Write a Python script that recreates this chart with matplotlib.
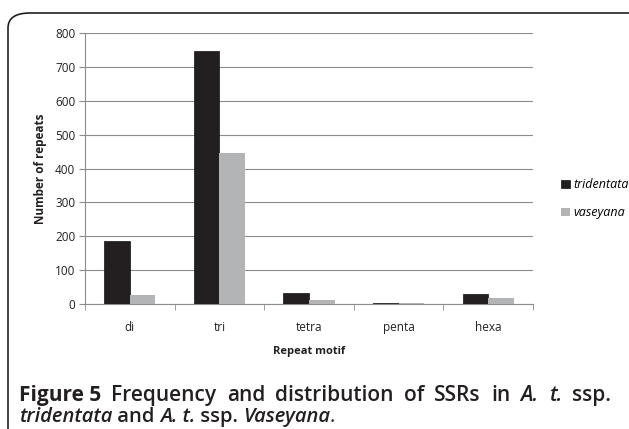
import matplotlib
matplotlib.use("Agg")
import matplotlib.pyplot as plt
import numpy as np
from matplotlib.patches import FancyBboxPatch

plt.rcParams['font.family'] = ['Open Sans', 'DejaVu Sans']

# data
motifs = ['di', 'tri', 'tetra', 'penta', 'hexa']
tridentata = [186, 748, 32, 4, 29]
vaseyana = [26, 445, 11, 2, 19]
series_names = ['tridentata', 'vaseyana']
yticks = [0, 100, 200, 300, 400, 500, 600, 700, 800]

fig = plt.figure(figsize=(6.29, 4.29), dpi=100)

# rounded frame around the figure
frame = FancyBboxPatch((8 / 629, -0.1), 1.1, 1 - 13 / 429 + 0.1,
                       boxstyle="round,pad=0,rounding_size=0.035",
                       transform=fig.transFigure, fill=False,
                       edgecolor='#231f20', linewidth=1.2)
fig.patches.append(frame)

ax = fig.add_axes([85 / 629, 1 - 304 / 429, 448 / 629, 271 / 429])
x = np.arange(len(motifs))
w = 1 / 3.5
ax.bar(x - w / 2, tridentata, w, color='#231f20', edgecolor='#111111', linewidth=0.5,
       label=series_names[0], zorder=3)
ax.bar(x + w / 2, vaseyana, w, color='#b3b4b6', linewidth=0,
       label=series_names[1], zorder=3)

ax.set_xlim(-0.5, len(motifs) - 0.5)
ax.set_ylim(0, 800)
ax.set_yticks(yticks)
ax.yaxis.grid(True, color='#8c8c8c', linewidth=0.8, zorder=0)
ax.set_xticks(x)
ax.set_xticklabels(motifs)
ax.set_xticks(np.arange(-0.5, len(motifs)), minor=True)
ax.tick_params(axis='x', which='major', length=0, pad=12, labelsize=8.5, colors='#231f20')
ax.tick_params(axis='x', which='minor', length=4, color='#8c8c8c', direction='out')
ax.tick_params(axis='y', length=4, color='#8c8c8c', labelsize=8.5, labelcolor='#231f20', pad=3)
for s in ['top', 'right']:
    ax.spines[s].set_visible(False)
for s in ['left', 'bottom']:
    ax.spines[s].set_color('#8c8c8c')
    ax.spines[s].set_linewidth(0.8)

ax.set_ylabel('Number of repeats', fontsize=8.5, fontweight='bold', color='#231f20', labelpad=6)
ax.set_xlabel('Repeat motif', fontsize=8, fontweight='bold', color='#231f20', labelpad=9)

leg = fig.legend(loc='center left', bbox_to_anchor=(550 / 629, 1 - 199 / 429),
                 frameon=False, handlelength=0.7, handleheight=0.7, handletextpad=0.3,
                 labelspacing=1.2, prop={'size': 9, 'style': 'italic'})

# caption built from pieces with mixed styles
fig.canvas.draw()
renderer = fig.canvas.get_renderer()


def draw_line(pieces, y, x0, x1=None, size=14.5):
    texts = []
    for s, weight, style in pieces:
        t = fig.text(0, y, s, fontsize=size, fontweight=weight, style=style,
                     color='#231f20', va='baseline', ha='left')
        texts.append(t)
    widths = [t.get_window_extent(renderer).width for t in texts]
    total = sum(widths)
    gap = 0
    if x1 is not None and len(texts) > 1:
        gap = ((x1 - x0) * 629 - total) / (len(texts) - 1)
    xpos = x0 * 629
    for t, wd in zip(texts, widths):
        t.set_x(xpos / 629)
        xpos += wd + gap


draw_line([('Figure 5', 'bold', 'normal'),
           ('Frequency', 'semibold', 'normal'),
           ('and', 'semibold', 'normal'),
           ('distribution', 'semibold', 'normal'),
           ('of', 'semibold', 'normal'),
           ('SSRs', 'semibold', 'normal'),
           ('in', 'semibold', 'normal'),
           ('A.', 'semibold', 'italic'),
           ('t.', 'semibold', 'italic'),
           ('ssp.', 'semibold', 'normal')],
          1 - 401 / 429, 19 / 629, 611 / 629, size=15)
draw_line([('tridentata', 'semibold', 'italic'),
           (' and ', 'semibold', 'normal'),
           ('A. t.', 'semibold', 'italic'),
           (' ssp. ', 'semibold', 'normal'),
           ('Vaseyana', 'semibold', 'italic'),
           ('.', 'normal', 'italic')],
          1 - 422 / 429, 19 / 629, size=14.5)

fig.savefig('out.png', dpi=100)
